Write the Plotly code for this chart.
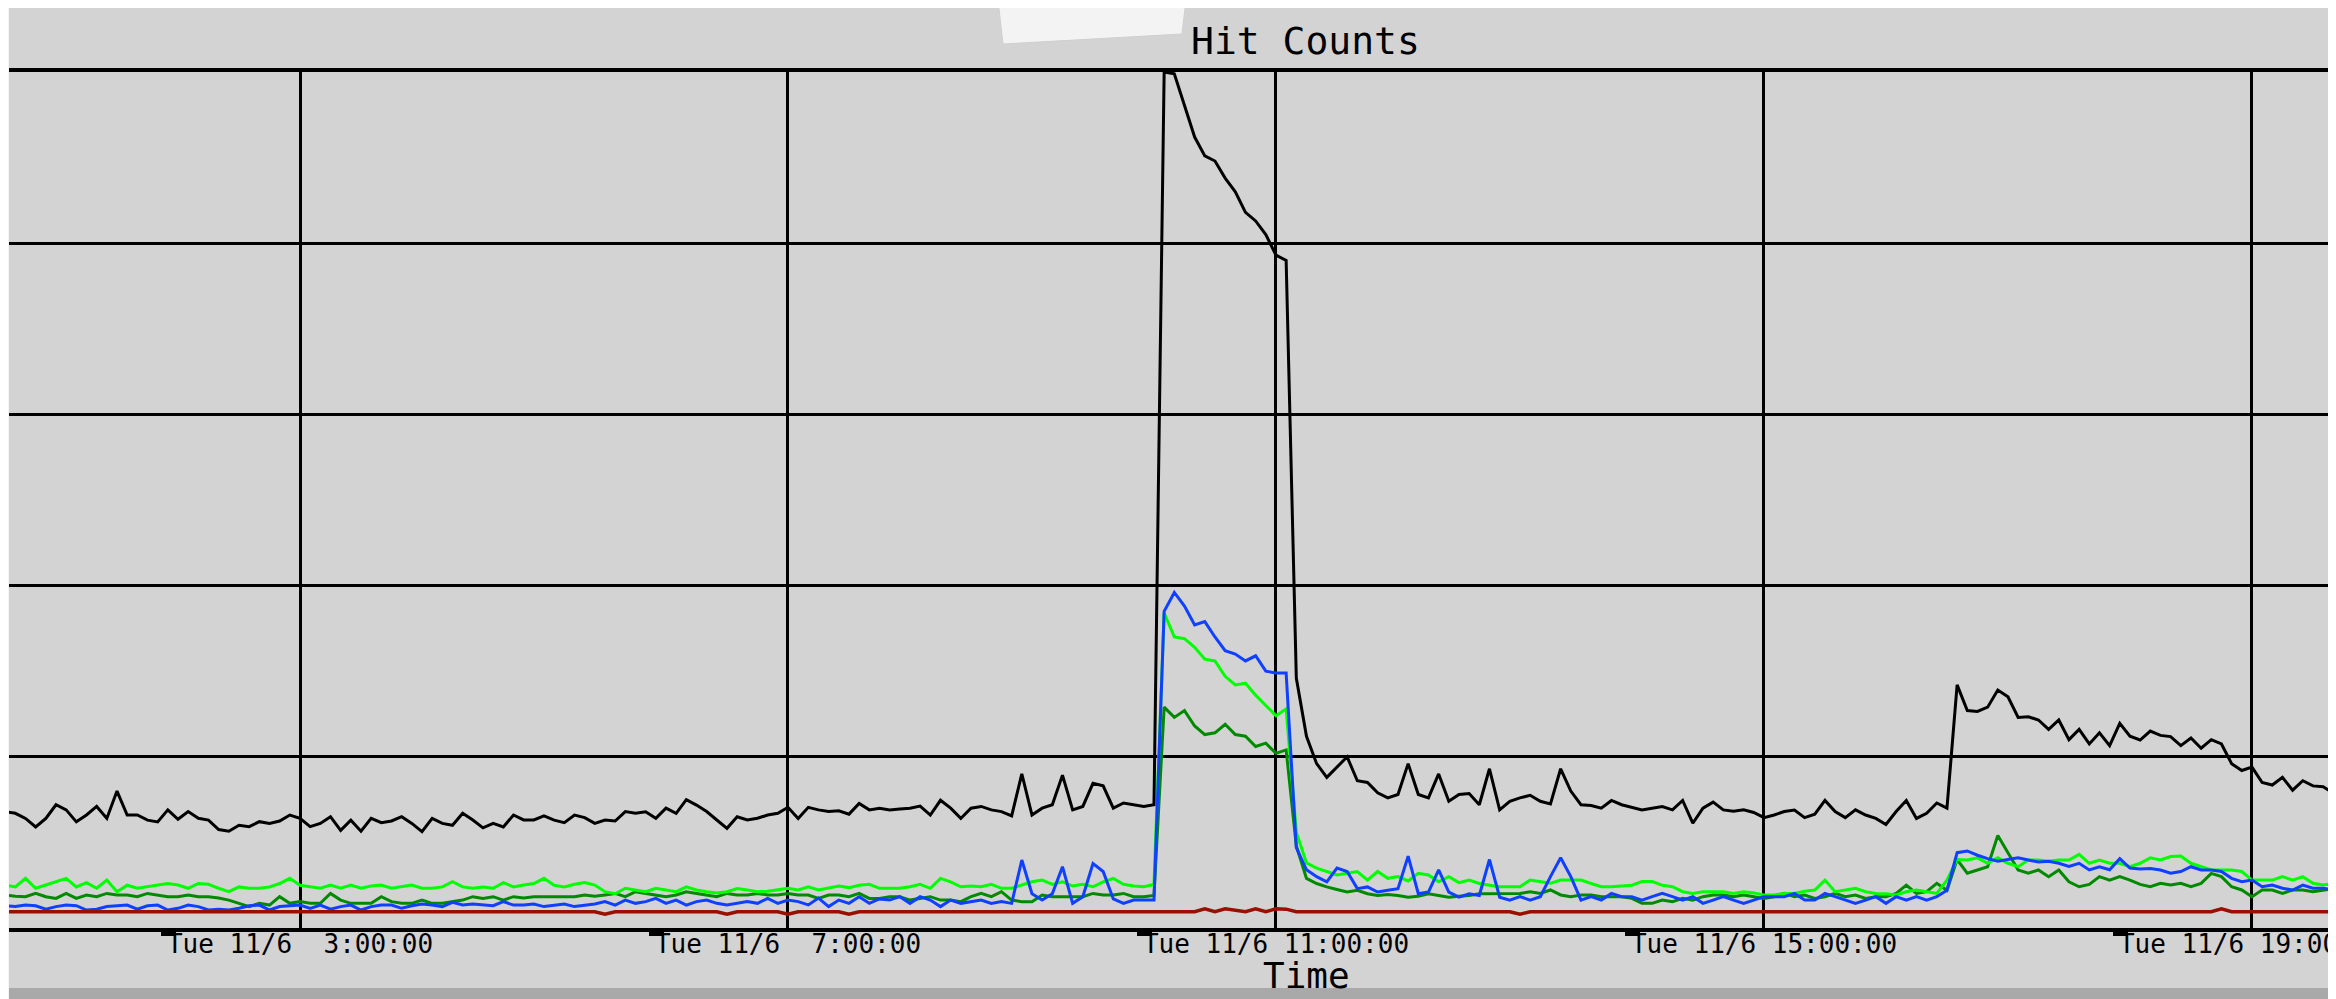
import pandas as pd
import plotly.graph_objects as go

# sample times: every 5 minutes from 00:35 on Tue 11/6
times = pd.date_range("2012-11-06 00:35", periods=231, freq="5min")

total_hits = [
    679, 670, 640, 590, 640, 720, 690, 620, 660, 710, 640, 800,
    660, 660, 630, 620, 690, 635, 680, 641, 630, 575, 565, 600,
    592, 621, 611, 625, 660, 641, 592, 611, 650, 570, 630, 565,
    640, 615, 625, 650, 611, 563, 640, 611, 600, 670, 631, 585,
    611, 590, 660, 631, 631, 655, 630, 615, 660, 645, 611, 631,
    625, 680, 670, 679, 641, 700, 670, 750, 718, 680, 631, 582,
    650, 631, 641, 660, 670, 705, 640, 705, 690, 680, 685, 665,
    728, 690, 700, 689, 695, 700, 712, 660, 746, 700, 640, 700,
    710, 690, 680, 655, 900, 660, 700, 720, 893, 690, 710, 845,
    830, 700, 730, 720, 710, 720, 5000, 4990, 4800, 4620, 4510, 4480,
    4380, 4300, 4180, 4130, 4050, 3930, 3900, 1460, 1120, 960, 880, 940,
    1000, 860, 850, 790, 760, 780, 960, 780, 760, 900, 740, 780,
    785, 720, 930, 690, 740, 760, 775, 740, 725, 930, 800, 720,
    715, 700, 745, 720, 705, 690, 700, 709, 690, 745, 612, 700,
    735, 690, 682, 690, 675, 645, 660, 680, 689, 645, 665, 745,
    680, 645, 690, 660, 640, 605, 680, 745, 640, 670, 730, 700,
    1420, 1270, 1265, 1290, 1390, 1350, 1230, 1234, 1215, 1160, 1215, 1100,
    1160, 1075, 1140, 1065, 1195, 1120, 1098, 1150, 1125, 1118, 1065, 1110,
    1050, 1100, 1075, 960, 920, 940, 850, 835, 880, 805, 860, 830,
    825, 790, 800,
]

blue_hits = [
    130, 125, 134, 130, 110, 125, 134, 130, 105, 110, 125, 130,
    134, 110, 130, 134, 105, 115, 134, 125, 105, 110, 105, 115,
    130, 134, 105, 125, 130, 134, 115, 134, 110, 125, 134, 105,
    125, 134, 134, 115, 130, 140, 134, 125, 150, 134, 140, 134,
    130, 154, 134, 134, 140, 125, 134, 140, 125, 134, 140, 154,
    134, 163, 144, 154, 173, 144, 163, 134, 154, 163, 144, 134,
    144, 154, 144, 173, 144, 163, 154, 135, 175, 125, 163, 144,
    183, 144, 170, 163, 183, 144, 183, 163, 125, 163, 144, 155,
    163, 144, 155, 144, 397, 200, 163, 200, 358, 144, 183, 377,
    330, 170, 144, 163, 163, 163, 1850, 1960, 1880, 1770, 1790, 1700,
    1620, 1600, 1560, 1590, 1500, 1490, 1490, 470, 340, 300, 270, 350,
    330, 230, 240, 210, 220, 230, 420, 200, 210, 340, 210, 180,
    200, 190, 400, 180, 163, 183, 163, 183, 300, 410, 300, 163,
    183, 163, 202, 183, 183, 163, 183, 202, 183, 163, 183, 144,
    163, 183, 163, 144, 163, 183, 183, 183, 202, 163, 163, 202,
    183, 163, 144, 163, 183, 144, 183, 163, 183, 163, 183, 220,
    440, 450, 425, 405, 390, 400, 410, 397, 385, 390, 378, 360,
    378, 339, 358, 340, 405, 350, 345, 348, 339, 320, 330, 358,
    339, 339, 330, 290, 270, 280, 241, 251, 232, 222, 251, 232,
    232, 222, 230,
]

lime_hits = [
    251, 240, 290, 232, 251, 270, 290, 240, 265, 232, 280, 212,
    250, 232, 240, 251, 260, 251, 232, 260, 255, 232, 212, 240,
    232, 232, 240, 260, 290, 250, 240, 232, 251, 232, 251, 232,
    245, 251, 232, 240, 251, 232, 232, 240, 270, 240, 232, 240,
    232, 265, 240, 251, 260, 290, 250, 240, 255, 265, 251, 212,
    200, 232, 222, 212, 232, 222, 212, 240, 222, 212, 205, 212,
    230, 222, 212, 215, 222, 232, 222, 241, 222, 232, 245, 236,
    250, 255, 232, 232, 232, 241, 255, 232, 290, 270, 241, 245,
    241, 255, 232, 232, 250, 270, 280, 255, 270, 245, 255, 241,
    270, 290, 255, 245, 241, 255, 1840, 1700, 1690, 1640, 1570, 1560,
    1470, 1420, 1430, 1360, 1300, 1240, 1280, 560, 380, 350, 330, 310,
    320, 330, 280, 330, 290, 300, 275, 320, 310, 270, 300, 265,
    280, 260, 250, 241, 241, 241, 280, 271, 261, 280, 280, 280,
    260, 241, 241, 245, 250, 271, 271, 250, 241, 212, 202, 212,
    212, 212, 202, 212, 205, 193, 193, 202, 202, 215, 222, 280,
    212, 222, 232, 212, 202, 200, 193, 212, 222, 212, 202, 280,
    400, 397, 410, 378, 410, 378, 358, 397, 397, 390, 397, 397,
    430, 378, 397, 378, 378, 358, 378, 410, 397, 417, 420, 378,
    358, 339, 339, 339, 330, 280, 280, 280, 300, 280, 300, 261,
    251, 261, 260,
]

green_hits = [
    193, 185, 183, 202, 183, 173, 202, 173, 193, 183, 202, 193,
    193, 183, 202, 193, 183, 183, 193, 183, 183, 175, 163, 144,
    125, 144, 134, 183, 144, 154, 144, 144, 202, 163, 144, 144,
    144, 183, 154, 144, 144, 163, 144, 144, 154, 163, 183, 173,
    183, 163, 183, 175, 183, 183, 183, 183, 183, 193, 185, 193,
    202, 183, 212, 202, 193, 183, 193, 212, 202, 193, 183, 202,
    193, 193, 202, 193, 193, 202, 193, 193, 173, 193, 193, 183,
    202, 173, 173, 183, 183, 163, 173, 183, 163, 163, 154, 183,
    202, 183, 212, 163, 154, 154, 193, 183, 183, 183, 183, 202,
    193, 193, 202, 183, 183, 190, 1290, 1230, 1270, 1180, 1130, 1140,
    1190, 1130, 1120, 1060, 1080, 1020, 1040, 480, 290, 260, 240, 225,
    210, 220, 200, 190, 195, 190, 180, 185, 200, 190, 180, 185,
    190, 200, 200, 200, 202, 202, 212, 202, 222, 193, 183, 193,
    193, 183, 183, 183, 173, 144, 144, 163, 154, 173, 163, 183,
    193, 193, 183, 193, 183, 173, 183, 202, 183, 193, 173, 183,
    202, 183, 193, 173, 183, 183, 202, 250, 202, 212, 261, 220,
    400, 320, 339, 358, 540, 440, 339, 320, 339, 300, 339, 270,
    241, 255, 300, 280, 300, 280, 255, 241, 261, 251, 261, 241,
    261, 319, 300, 241, 222, 183, 222, 222, 202, 222, 222, 212,
    222, 230, 225,
]

red_hits = [
    95, 95, 95, 95, 95, 95, 95, 95, 95, 95, 95, 95,
    95, 95, 95, 95, 95, 95, 95, 95, 95, 95, 95, 95,
    95, 95, 95, 95, 95, 95, 95, 95, 95, 95, 95, 95,
    95, 95, 95, 95, 95, 95, 95, 95, 95, 95, 95, 95,
    95, 95, 95, 95, 95, 95, 95, 95, 95, 95, 95, 80,
    95, 95, 95, 95, 95, 95, 95, 95, 95, 95, 95, 80,
    95, 95, 95, 95, 95, 80, 95, 95, 95, 95, 95, 80,
    95, 95, 95, 95, 95, 95, 95, 95, 95, 95, 95, 95,
    95, 95, 95, 95, 95, 95, 95, 95, 95, 95, 95, 95,
    95, 95, 95, 95, 95, 95, 95, 95, 95, 95, 112, 95,
    112, 105, 95, 112, 95, 112, 110, 95, 95, 95, 95, 95,
    95, 95, 95, 95, 95, 95, 95, 95, 95, 95, 95, 95,
    95, 95, 95, 95, 95, 80, 95, 95, 95, 95, 95, 95,
    95, 95, 95, 95, 95, 95, 95, 95, 95, 95, 95, 95,
    95, 95, 95, 95, 95, 95, 95, 95, 95, 95, 95, 95,
    95, 95, 95, 95, 95, 95, 95, 95, 95, 95, 95, 95,
    95, 95, 95, 95, 95, 95, 95, 95, 95, 95, 95, 95,
    95, 95, 95, 95, 95, 95, 95, 95, 95, 95, 95, 95,
    95, 95, 112, 95, 95, 95, 95, 95, 95, 95, 95, 95,
    95, 95, 95,
]

tick_times = ["2012-11-06 03:00", "2012-11-06 07:00", "2012-11-06 11:00",
              "2012-11-06 15:00", "2012-11-06 19:00"]
tick_labels = ["Tue 11/6\u00a0\u00a03:00:00", "Tue 11/6\u00a0\u00a07:00:00",
               "Tue 11/6 11:00:00", "Tue 11/6 15:00:00", "Tue 11/6 19:00:00"]
mark_times = ["2012-11-06 01:55:30", "2012-11-06 05:55:30", "2012-11-06 09:55:30",
              "2012-11-06 13:55:30", "2012-11-06 17:55:30"]
y_grid = [1000, 2000, 3000, 4000]

MONO = "DejaVu Sans Mono"
GRAY = "#d3d3d3"

fig = go.Figure()
series = [
    ("Hits (group 3)", green_hits, "#008a00", 3),
    ("Hits (group 2)", lime_hits, "#00ff00", 3),
    ("Hits (group 1)", blue_hits, "#1040ff", 3),
    ("Total hits", total_hits, "#000000", 3),
    ("Errors", red_hits, "#9a1000", 3.5),
]
for name, vals, color, w in series:
    fig.add_trace(go.Scatter(x=times, y=vals, mode="lines", name=name,
                             line=dict(color=color, width=w)))

# the page body has an 8px margin: figure is placed at page (8, 8)
def px_x(px):
    return (px - 9) / 2327.0

def px_y(py):
    return (928 - py) / 856.0

shapes = [
    # chart card
    dict(type="rect", xref="paper", yref="paper", x0=px_x(9), x1=1.01,
         y0=px_y(988), y1=px_y(0), fillcolor=GRAY, line=dict(width=0), layer="below"),
    # shadow under card
    dict(type="rect", xref="paper", yref="paper", x0=px_x(9), x1=1.01,
         y0=px_y(1005), y1=px_y(988), fillcolor="#a9a9a9", line=dict(width=0), layer="below"),
    # tape
    dict(type="path", xref="paper", yref="paper",
         path=f"M {px_x(998)},{px_y(0)} L {px_x(1186)},{px_y(0)} L {px_x(1182)},{px_y(34)} L {px_x(1003)},{px_y(44)} Z",
         fillcolor="#f3f3f3", line=dict(color="#cfcfcf", width=1), layer="above"),
]

fig.update_layout(
    width=2328, height=991,
    margin=dict(l=1, r=0, t=64, b=71, pad=0, autoexpand=False),
    paper_bgcolor="#f3f5f7",
    plot_bgcolor=GRAY,
    showlegend=False,
    shapes=shapes,
    annotations=[
        dict(text="Hit Counts", xref="paper", yref="paper", x=px_x(1305), y=px_y(41),
             xanchor="center", yanchor="middle", showarrow=False,
             font=dict(family=MONO, size=38, color="black")),
        dict(text="Time", xref="paper", yref="paper", x=px_x(1307), y=px_y(975),
             xanchor="center", yanchor="middle", showarrow=False,
             font=dict(family=MONO, size=36, color="black")),
    ],
    xaxis=dict(
        type="date",
        range=["2012-11-06 00:36:53", "2012-11-06 19:41:20"],
        tickvals=tick_times, ticktext=tick_labels,
        ticks="", showgrid=True, gridcolor="black", gridwidth=3,
        showline=True, mirror=True, linecolor="black", linewidth=3.5,
        zeroline=False, automargin=False, ticklabelstandoff=-10,
        ticklabeloverflow="allow",
        tickfont=dict(family=MONO, size=26, color="black"),
        minor=dict(tickvals=mark_times, ticks="outside", ticklen=4,
                   tickwidth=15, tickcolor="black", showgrid=False),
    ),
    yaxis=dict(
        range=[0, 5000], tickvals=y_grid, showgrid=True, gridcolor="black",
        gridwidth=3, showticklabels=False, zeroline=False, showline=False,
        ticks="", automargin=False,
    ),
)

fig.write_html("out.html")
